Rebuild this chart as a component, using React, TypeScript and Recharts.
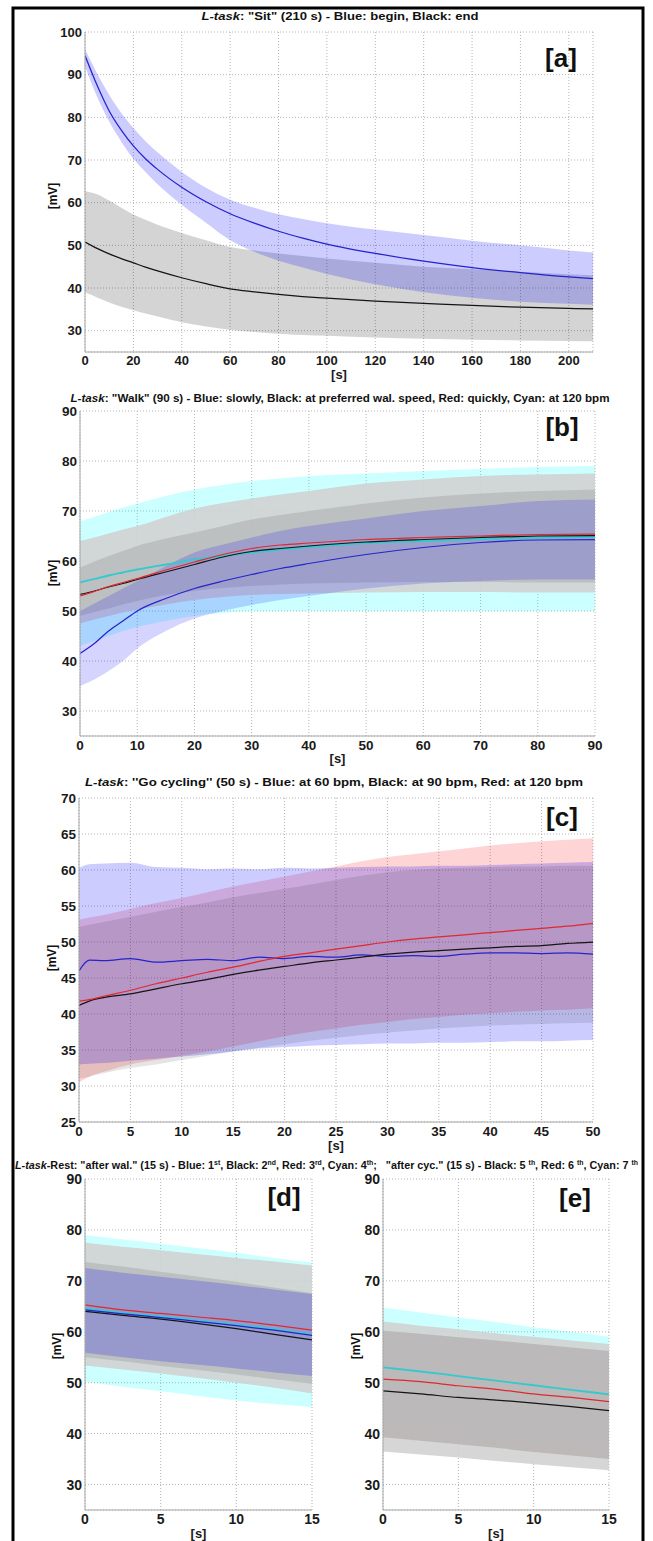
import React from "react";
import { ComposedChart, Area, Line, XAxis, YAxis, CartesianGrid } from "recharts";

const FONT = "'Liberation Sans', Arial, Helvetica, sans-serif";
const AXIS = "#a8a8a8";

// ---- panel [a]: "Sit" ----
const aT = [0, 5, 10, 15, 20, 25, 30, 40, 50, 60, 70, 80, 90, 100, 120, 140, 160, 180, 200, 210];
const aBlueMean = [94.5, 87.5, 81.5, 77, 73.3, 70.3, 67.8, 63.6, 60.2, 57.4, 55.2, 53.3, 51.7, 50.3, 48.1, 46.3, 44.8, 43.6, 42.6, 42.2];
const aBlueHi = [96, 90.3, 85.3, 81, 77.5, 74.4, 71.8, 67.2, 63.5, 60.7, 58.8, 57.3, 56.2, 55.2, 53.7, 52.4, 51.1, 50, 48.8, 48.3];
const aBlueLo = [92, 84.8, 79, 74.3, 70.3, 67.2, 64.3, 59.5, 55.3, 51.2, 48.5, 46.4, 44.8, 43.3, 40.9, 39, 37.7, 36.8, 36.3, 36.1];
const aBlackMean = [50.8, 49.3, 48, 46.9, 45.9, 44.9, 44, 42.4, 41, 39.8, 39.1, 38.5, 38, 37.6, 36.9, 36.4, 35.9, 35.5, 35.2, 35.1];
const aBlackHi = [62.7, 62, 60.5, 58.8, 57.2, 56, 54.8, 52.9, 51.2, 49.6, 48.8, 48.1, 47.5, 46.9, 45.9, 45, 44.4, 43.8, 43.2, 43];
const aBlackLo = [39, 37.8, 36.6, 35.6, 34.8, 34, 33.3, 32, 31, 30.2, 29.7, 29.3, 29, 28.8, 28.4, 28.1, 27.9, 27.7, 27.6, 27.5];
const aXTicks = [0, 20, 40, 60, 80, 100, 120, 140, 160, 180, 200];
const aYTicks = [30, 40, 50, 60, 70, 80, 90, 100];

// ---- panel [b]: "Walk" ----
const bT = [0, 2.5, 5, 7.5, 10, 15, 20, 25, 30, 35, 40, 50, 60, 70, 80, 90];
const bBlueMean = [41.5, 43.5, 46, 48, 50, 52.5, 54.5, 56, 57.3, 58.5, 59.5, 61.3, 62.7, 63.7, 64.2, 64.3];
const bBlackMean = [53.3, 54, 54.8, 55.5, 56.3, 57.8, 59.3, 60.8, 61.9, 62.5, 63, 63.8, 64.3, 64.7, 65, 65.1];
const bRedMean = [53, 53.9, 54.9, 55.7, 56.5, 58.2, 59.8, 61.3, 62.5, 63.2, 63.6, 64.3, 64.7, 65, 65.3, 65.4];
const bCyanMean = [55.7, 56.4, 57.1, 57.7, 58.3, 59.3, 60.3, 61, 61.7, 62.3, 62.8, 63.6, 64, 64.4, 64.7, 64.8];
const bCyanHi = [68, 68.8, 69.8, 70.7, 71.5, 73, 74.3, 75.2, 76, 76.5, 77, 77.5, 78, 78.4, 78.8, 79];
const bCyanLo = [43, 44, 45, 46, 46.8, 48, 49, 49.6, 50, 50, 50, 50, 50, 50, 50, 50];
const bBlackHi = [64, 64.7, 65.5, 66.3, 67, 68.8, 70.5, 71.6, 72.5, 73.3, 74, 75.5, 76.3, 77, 77.3, 77.5];
const bBlackLo = [47.5, 48.3, 49, 49.7, 50.3, 51.3, 52.2, 52.8, 53.2, 53.4, 53.5, 53.7, 53.8, 53.8, 53.7, 53.7];
const bRedHi = [58.7, 59.9, 61, 62, 63, 64.5, 65.7, 67, 68.3, 69.2, 70, 71.5, 72.7, 73.5, 74, 74.3];
const bRedLo = [49, 49.8, 50.5, 51.3, 52, 53.2, 54, 54.6, 55, 55.3, 55.5, 55.7, 55.8, 55.8, 55.7, 55.7];
const bBlueHi = [50, 51.5, 53, 54.5, 56, 59, 61.7, 63.3, 64.7, 66, 67, 68.5, 70, 71, 72, 72.3];
const bBlueLo = [35, 36.3, 38, 40, 42.5, 46, 48.5, 50, 51.2, 52.2, 53, 54.5, 55.5, 56, 56.3, 56.3];
const bXTicks = [0, 10, 20, 30, 40, 50, 60, 70, 80, 90];
const bYTicks = [30, 40, 50, 60, 70, 80, 90];

// ---- panel [c]: "Go cycling" ----
const cT = [0, 1, 2.5, 5, 7.5, 10, 12.5, 15, 17.5, 20, 22.5, 25, 27.5, 30, 32.5, 35, 37.5, 40, 42.5, 45, 47.5, 50];
const cBlueMean = [46, 47.5, 47.4, 47.7, 47.2, 47.4, 47.6, 47.4, 47.9, 47.7, 48, 47.9, 48.2, 48, 48.1, 48, 48.3, 48.5, 48.5, 48.4, 48.5, 48.3];
const cRedMean = [41.8, 42, 42.5, 43.3, 44.2, 45, 45.8, 46.5, 47.3, 48, 48.5, 49, 49.5, 50, 50.4, 50.7, 51, 51.3, 51.6, 51.9, 52.2, 52.6];
const cBlackMean = [41.2, 41.8, 42.3, 42.8, 43.5, 44.2, 44.8, 45.5, 46.1, 46.6, 47.1, 47.5, 47.9, 48.3, 48.6, 48.8, 49, 49.2, 49.4, 49.5, 49.8, 50];
const cBlueHi = [60.3, 60.8, 60.9, 61, 60.4, 60.3, 60.1, 60.2, 60.1, 60.3, 60.2, 60.3, 60.4, 60.5, 60.5, 60.6, 60.6, 60.7, 60.8, 60.9, 61, 61.1];
const cRedHi = [53.1, 53.4, 53.8, 54.6, 55.4, 56.1, 56.9, 57.7, 58.4, 59.1, 59.8, 60.5, 61.2, 61.8, 62.2, 62.6, 63, 63.4, 63.7, 64, 64.2, 64.4];
const cBlackHi = [52.1, 52.4, 52.8, 53.5, 54.2, 54.9, 55.5, 56.2, 56.8, 57.4, 58, 58.6, 59.2, 59.7, 60, 60.2, 60.3, 60.4, 60.5, 60.5, 60.6, 60.6];
const cRedLo = [30.5, 31.3, 32, 33, 33.6, 34.2, 34.8, 35.5, 36.2, 36.9, 37.5, 38, 38.5, 38.9, 39.3, 39.6, 39.9, 40.1, 40.3, 40.5, 40.6, 40.8];
const cBlackLo = [31, 31.3, 31.8, 32.5, 33, 33.6, 34.2, 34.8, 35.3, 35.8, 36.3, 36.7, 37.1, 37.4, 37.7, 38, 38.2, 38.4, 38.5, 38.6, 38.7, 38.8];
const cBlueLo = [33, 33.1, 33.2, 33.5, 33.8, 34.1, 34.4, 34.8, 35.2, 35.4, 35.6, 35.7, 35.8, 35.9, 35.9, 36, 36, 36.1, 36.2, 36.2, 36.3, 36.4];
const cXTicks = [0, 5, 10, 15, 20, 25, 30, 35, 40, 45, 50];
const cYTicks = [25, 30, 35, 40, 45, 50, 55, 60, 65, 70];

// ---- panel [d]: rest after walking ----
const dT = [0, 2.5, 5, 7.5, 10, 12.5, 15];
const dRedMean = [65.3, 64.3, 63.6, 62.9, 62.2, 61.3, 60.3];
const dCyanMean = [64.6, 63.7, 63, 62.2, 61.4, 60.5, 59.5];
const dBlueMean = [64.3, 63.5, 62.8, 62, 61.2, 60.3, 59.3];
const dBlackMean = [64, 63.2, 62.5, 61.6, 60.6, 59.5, 58.4];
const dCyanHi = [79, 78.1, 77.3, 76.4, 75.5, 74.5, 73.6];
const dCyanLo = [50.2, 49.2, 48.3, 47.4, 46.5, 45.8, 45.2];
const dBlackHi = [77.5, 76.7, 76, 75.2, 74.5, 73.8, 73];
const dBlackLo = [53.4, 52.6, 51.8, 50.9, 50, 49, 47.9];
const dRedHi = [73.7, 72.8, 71.8, 70.8, 69.8, 68.7, 67.6];
const dRedLo = [55, 54.2, 53.3, 52.5, 51.6, 50.7, 49.8];
const dBlueHi = [72.5, 71.6, 70.8, 70, 69.2, 68.3, 67.4];
const dBlueLo = [55.9, 55, 54.2, 53.5, 52.8, 52, 51.3];

// ---- panel [e]: rest after cycling ----
const eT = [0, 2.5, 5, 7.5, 10, 12.5, 15];
const eCyanMean = [53, 52.2, 51.3, 50.4, 49.5, 48.6, 47.7];
const eRedMean = [50.7, 50.2, 49.4, 48.7, 47.8, 47.1, 46.3];
const eBlackMean = [48.4, 47.8, 47.1, 46.6, 46, 45.3, 44.5];
const eCyanHi = [64.7, 63.8, 62.8, 61.9, 60.9, 60, 59];
const eCyanLo = [40.6, 40, 39.3, 38.6, 37.9, 37.1, 36.4];
const eBlackHi = [62, 61.2, 60.5, 59.7, 59, 58.3, 57.6];
const eBlackLo = [36.5, 35.9, 35.3, 34.6, 34, 33.4, 32.8];
const eRedHi = [60.2, 59.6, 58.9, 58.3, 57.6, 56.9, 56.2];
const eRedLo = [39.3, 38.6, 37.9, 37.2, 36.4, 35.7, 35];
const restXTicks = [0, 5, 10, 15];
const restYTicks = [30, 40, 50, 60, 70, 80, 90];

function toRows(t: number[], cols: Record<string, number[]>) {
  return t.map((x, i) => {
    const row: any = { t: x };
    for (const k of Object.keys(cols)) row[k] = cols[k][i];
    return row;
  });
}

const aData = toRows(aT, { blue: aBlueMean, blueHi: aBlueHi, blueLo: aBlueLo, black: aBlackMean, blackHi: aBlackHi, blackLo: aBlackLo });
const bData = toRows(bT, {
  blue: bBlueMean, black: bBlackMean, red: bRedMean, cyan: bCyanMean,
  cyanHi: bCyanHi, cyanLo: bCyanLo, blackHi: bBlackHi, blackLo: bBlackLo,
  redHi: bRedHi, redLo: bRedLo, blueHi: bBlueHi, blueLo: bBlueLo,
});
const cData = toRows(cT, {
  blue: cBlueMean, red: cRedMean, black: cBlackMean,
  blueHi: cBlueHi, blueLo: cBlueLo, redHi: cRedHi, redLo: cRedLo, blackHi: cBlackHi, blackLo: cBlackLo,
});
const dData = toRows(dT, {
  red: dRedMean, cyan: dCyanMean, blue: dBlueMean, black: dBlackMean,
  cyanHi: dCyanHi, cyanLo: dCyanLo, blackHi: dBlackHi, blackLo: dBlackLo,
  redHi: dRedHi, redLo: dRedLo, blueHi: dBlueHi, blueLo: dBlueLo,
});
const eData = toRows(eT, {
  cyan: eCyanMean, red: eRedMean, black: eBlackMean,
  cyanHi: eCyanHi, cyanLo: eCyanLo, blackHi: eBlackHi, blackLo: eBlackLo, redHi: eRedHi, redLo: eRedLo,
});

// band layers, drawn in order; fills tuned so the overlaps look like the figure
type Band = { key: string; fill: string; opacity: number };
const aBands: Band[] = [
  { key: "black", fill: "#000000", opacity: 0.17 },
  { key: "blue", fill: "#0000ff", opacity: 0.2 },
];
const bBands: Band[] = [
  { key: "cyan", fill: "#00ffff", opacity: 0.2 },
  { key: "black", fill: "#d2d2d2", opacity: 0.9 },
  { key: "red", fill: "#a0a0a0", opacity: 0.4 },
  { key: "blue", fill: "#0000ff", opacity: 0.17 },
];
const cBands: Band[] = [
  { key: "red", fill: "#ff0000", opacity: 0.17 },
  { key: "blue", fill: "#0000ff", opacity: 0.2 },
  { key: "black", fill: "#000000", opacity: 0.1 },
];
const dBands: Band[] = [
  { key: "cyan", fill: "#00ffff", opacity: 0.2 },
  { key: "black", fill: "#d2d2d2", opacity: 0.9 },
  { key: "red", fill: "#a0a0a0", opacity: 0.4 },
  { key: "blue", fill: "#0000ff", opacity: 0.2 },
];
const eBands: Band[] = [
  { key: "cyan", fill: "#00ffff", opacity: 0.2 },
  { key: "black", fill: "#d2d2d2", opacity: 0.9 },
  { key: "red", fill: "#9c8e8e", opacity: 0.4 },
];

const LINE: Record<string, string> = {
  blue: "#2424cc",
  black: "#151515",
  red: "#e02830",
  cyan: "#33c9cf",
};

type PanelProps = {
  data: any[];
  xMax: number;
  xTicks: number[];
  yMin: number;
  yMax: number;
  yTicks: number[];
  left: number;
  top: number;
  w: number;
  h: number;
  bands: Band[];
  lines: string[];
  sOffset: number;
  fontSize: number;
};

const M = { top: 10, right: 16, bottom: 5, left: 5 };
const YW = 50;
const XH = 30;

function Panel(p: PanelProps) {
  const tick = { fill: "#1a1a1a", fontSize: p.fontSize, fontWeight: "bold", fontFamily: FONT };
  return (
    <div style={{ position: "absolute", left: p.left - M.left - YW, top: p.top - M.top }}>
      <ComposedChart
        width={p.w + M.left + YW + M.right}
        height={p.h + M.top + XH + M.bottom}
        data={p.data}
        margin={M}
      >
        <CartesianGrid stroke="#b4b4b4" strokeDasharray="1 2" />
        {p.bands.map((b) => (
          <Area
            key={"band-" + b.key}
            type="monotone"
            dataKey={(d: any) => [d[b.key + "Lo"], d[b.key + "Hi"]]}
            stroke="none"
            fill={b.fill}
            fillOpacity={b.opacity}
            dot={false}
            activeDot={false}
            isAnimationActive={false}
          />
        ))}
        {p.lines.map((l) => (
          <Line
            key={"line-" + l}
            type="monotone"
            dataKey={l}
            stroke={LINE[l]}
            strokeWidth={l === "cyan" ? 1.8 : 1.25}
            dot={false}
            activeDot={false}
            isAnimationActive={false}
          />
        ))}
        <XAxis
          dataKey="t"
          type="number"
          domain={[0, p.xMax]}
          ticks={p.xTicks}
          interval={0}
          height={XH}
          tickSize={4}
          tickMargin={0}
          tickLine={false}
          axisLine={{ stroke: AXIS }}
          tick={tick}
          allowDataOverflow
          label={{
            value: "[s]",
            position: "insideBottom",
            offset: p.sOffset,
            fill: "#1a1a1a",
            fontSize: 13,
            fontWeight: "bold",
            fontFamily: FONT,
          }}
        />
        <XAxis
          xAxisId="top"
          orientation="top"
          type="number"
          domain={[0, p.xMax]}
          height={0}
          tick={false}
          tickLine={false}
          axisLine={{ stroke: AXIS }}
        />
        <YAxis
          type="number"
          domain={[p.yMin, p.yMax]}
          ticks={p.yTicks}
          interval={0}
          width={YW}
          tickSize={2}
          tickMargin={1}
          tickLine={false}
          axisLine={{ stroke: AXIS }}
          tick={tick}
          allowDataOverflow
        />
        <YAxis
          yAxisId="right"
          orientation="right"
          type="number"
          domain={[p.yMin, p.yMax]}
          width={0}
          tick={false}
          tickLine={false}
          axisLine={{ stroke: AXIS }}
        />
      </ComposedChart>
    </div>
  );
}

function Title({ x, y, len, children }: { x: number; y: number; len: number; children: React.ReactNode }) {
  return (
    <text
      x={x}
      y={y}
      textAnchor="middle"
      fontFamily={FONT}
      fontWeight="bold"
      fontSize={11}
      fill="#111"
      textLength={len}
      lengthAdjust="spacingAndGlyphs"
    >
      {children}
    </text>
  );
}

function Sup({ children }: { children: React.ReactNode }) {
  return (
    <tspan fontSize={7} dy={-4}>
      {children}
    </tspan>
  );
}
function Down({ children }: { children: React.ReactNode }) {
  return <tspan dy={4}>{children}</tspan>;
}

const TAG_STYLE = { fontFamily: FONT, fontWeight: "bold" as const, fontSize: 26, fill: "#111" };
const MV_STYLE = { fontFamily: FONT, fontWeight: "bold" as const, fontSize: 12, fill: "#111" };

function MV({ x, y }: { x: number; y: number }) {
  return (
    <text x={x} y={y} transform={`rotate(-90 ${x} ${y})`} textAnchor="middle" dominantBaseline="central" {...MV_STYLE}>
      [mV]
    </text>
  );
}

const GAP = "\u00a0\u00a0\u00a0";

export default function App() {
  return (
    <div style={{ position: "absolute", left: 0, top: 0, width: 653, height: 1541, background: "#fff", overflow: "hidden" }}>
      <Panel data={aData} xMax={210} xTicks={aXTicks} yMin={25} yMax={100} yTicks={aYTicks}
        left={85} top={32} w={508} h={320} bands={aBands} lines={["black", "blue"]} sOffset={3.5} fontSize={13} />
      <Panel data={bData} xMax={90} xTicks={bXTicks} yMin={25} yMax={90} yTicks={bYTicks}
        left={80} top={411} w={515} h={325} bands={bBands} lines={["cyan", "black", "red", "blue"]} sOffset={3.5} fontSize={13.5} />
      <Panel data={cData} xMax={50} xTicks={cXTicks} yMin={25} yMax={70} yTicks={cYTicks}
        left={79} top={798} w={514} h={324} bands={cBands} lines={["blue", "black", "red"]} sOffset={2.5} fontSize={13.5} />
      <Panel data={dData} xMax={15} xTicks={restXTicks} yMin={25} yMax={90} yTicks={restYTicks}
        left={85} top={1179} w={227} h={331} bands={dBands} lines={["red", "cyan", "blue", "black"]} sOffset={2.5} fontSize={14} />
      <Panel data={eData} xMax={15} xTicks={restXTicks} yMin={25} yMax={90} yTicks={restYTicks}
        left={383} top={1179} w={226} h={331} bands={eBands} lines={["cyan", "red", "black"]} sOffset={2.5} fontSize={14} />

      <svg width={653} height={1541} style={{ position: "absolute", left: 0, top: 0, pointerEvents: "none" }}>
        <rect x={13} y={8} width={630} height={1600} fill="none" stroke="#000" strokeWidth={3} />

        <Title x={340} y={20} len={277}>
          <tspan fontStyle="italic">L-task</tspan>: "Sit" (210 s) - Blue: begin, Black: end
        </Title>
        <Title x={340} y={401.5} len={539}>
          <tspan fontStyle="italic">L-task</tspan>: "Walk" (90 s) - Blue: slowly, Black: at preferred wal. speed, Red: quickly, Cyan: at 120 bpm
        </Title>
        <Title x={334} y={786} len={498}>
          <tspan fontStyle="italic">L-task</tspan>: ''Go cycling'' (50 s) - Blue: at 60 bpm, Black: at 90 bpm, Red: at 120 bpm
        </Title>
        <Title x={326.5} y={1169} len={623}>
          <tspan fontStyle="italic">L-task</tspan>-Rest: "after wal." (15 s) - Blue: 1<Sup>st</Sup>
          <Down>, Black: 2</Down><Sup>nd</Sup>
          <Down>, Red: 3</Down><Sup>rd</Sup>
          <Down>, Cyan: 4</Down><Sup>th</Sup>
          <Down>;{GAP}"after cyc." (15 s) - Black: 5 </Down><Sup>th</Sup>
          <Down>, Red: 6 </Down><Sup>th</Sup>
          <Down>, Cyan: 7 </Down><Sup>th</Sup>
        </Title>

        <text x={561} y={67} textAnchor="middle" {...TAG_STYLE}>[a]</text>
        <text x={562} y={436} textAnchor="middle" {...TAG_STYLE}>[b]</text>
        <text x={562} y={826} textAnchor="middle" {...TAG_STYLE}>[c]</text>
        <text x={284} y={1206} textAnchor="middle" {...TAG_STYLE}>[d]</text>
        <text x={575} y={1207} textAnchor="middle" {...TAG_STYLE}>[e]</text>

        <MV x={53} y={196} />
        <MV x={53} y={573} />
        <MV x={52} y={958} />
        <MV x={57} y={1346} />
        <MV x={356} y={1346} />
      </svg>
    </div>
  );
}
